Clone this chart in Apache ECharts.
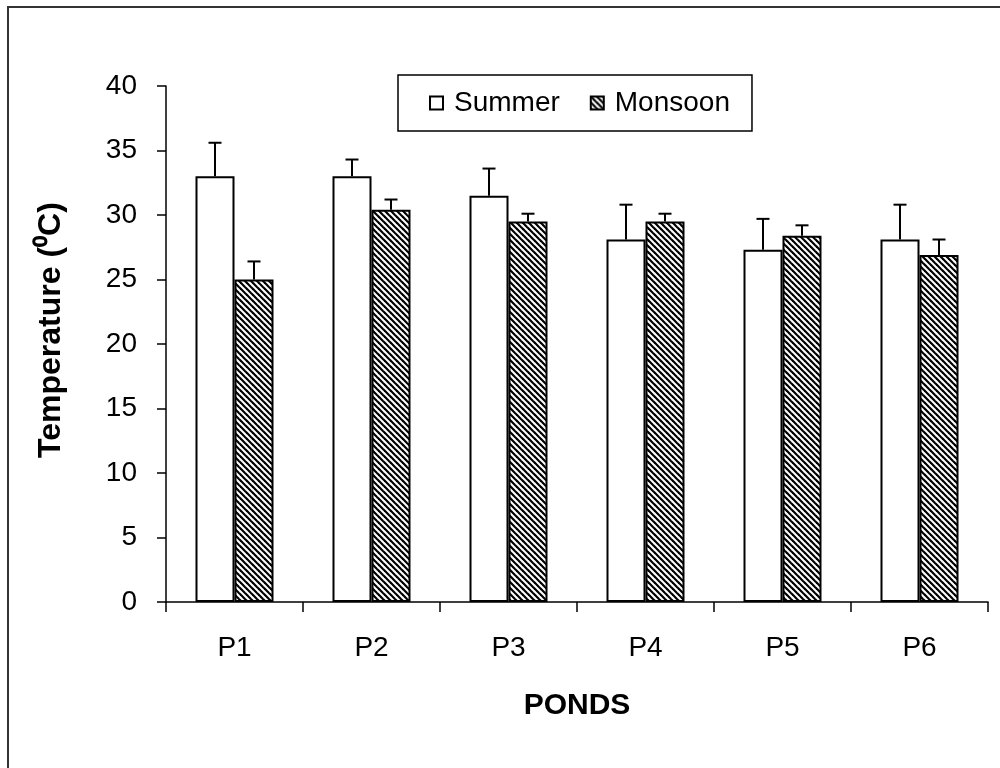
<!DOCTYPE html>
<html>
<head>
<meta charset="utf-8">
<script src="https://cdn.jsdelivr.net/npm/echarts@6/dist/echarts.min.js"></script>
<style>
  html, body { margin: 0; padding: 0; background: #fff; }
  #chart { width: 1000px; height: 768px; }
</style>
</head>
<body>
<div id="chart"></div>
<script>
const ponds = ['P1', 'P2', 'P3', 'P4', 'P5', 'P6'];
const summer = [33.0, 33.0, 31.5, 28.1, 27.3, 28.1];
const summerErr = [2.6, 1.3, 2.1, 2.7, 2.4, 2.7];
const monsoon = [25.0, 30.4, 29.5, 29.5, 28.4, 26.9];
const monsoonErr = [1.4, 0.8, 0.6, 0.6, 0.8, 1.2];
const yTicks = [0, 5, 10, 15, 20, 25, 30, 35, 40];

const FONT = '"Liberation Sans", Arial, sans-serif';
const BAR_W = 39;

// hatch pattern for monsoon bars
function makeHatch () {
  const c = document.createElement('canvas');
  c.width = 6;
  c.height = 6;
  const ctx = c.getContext('2d');
  ctx.fillStyle = '#fff';
  ctx.fillRect(0, 0, 6, 6);
  ctx.strokeStyle = '#000';
  ctx.lineWidth = 2.2;
  for (let k = -1; k <= 1; k++) {
    ctx.beginPath();
    ctx.moveTo(k * 6 - 1, -1);
    ctx.lineTo(k * 6 + 7, 7);
    ctx.stroke();
  }
  return c;
}
const hatch = { image: makeHatch(), repeat: 'repeat' };

function errorSeries (values, errs, offset) {
  return {
    type: 'custom',
    silent: true,
    z: 5,
    data: values.map((v, i) => [i, v, errs[i]]),
    encode: { x: 0, y: 1 },
    renderItem (params, api) {
      const i = api.value(0);
      const v = api.value(1);
      const e = api.value(2);
      const base = api.coord([i, v]);
      const top = api.coord([i, v + e]);
      const x = base[0] + offset;
      const style = { stroke: '#000', lineWidth: 2 };
      return {
        type: 'group',
        children: [
          { type: 'line', shape: { x1: x, y1: base[1], x2: x, y2: top[1] }, style },
          { type: 'line', shape: { x1: x - 6.5, y1: top[1], x2: x + 6.5, y2: top[1] }, style }
        ]
      };
    }
  };
}

const chart = echarts.init(document.getElementById('chart'));
chart.setOption({
  animation: false,
  backgroundColor: '#fff',
  textStyle: { fontFamily: FONT, color: '#000' },
  graphic: [{
    type: 'rect',
    shape: { x: 8, y: 7, width: 1200, height: 1200 },
    style: { fill: 'none', stroke: '#333', lineWidth: 2 },
    silent: true
  }],
  grid: { left: 166, right: 12, top: 86, bottom: 166 },
  legend: {
    left: 398,
    top: 75,
    orient: 'horizontal',
    data: ['Summer', 'Monsoon'],
    borderColor: '#000',
    borderWidth: 1.5,
    padding: [14, 22, 14, 31],
    itemWidth: 13,
    itemHeight: 13,
    itemGap: 30,
    icon: 'rect',
    textStyle: { fontFamily: FONT, fontSize: 28, color: '#000', padding: [0, 0, 0, 6] }
  },
  xAxis: {
    type: 'category',
    data: ponds,
    name: 'PONDS',
    nameLocation: 'middle',
    nameGap: 89,
    nameTextStyle: { fontFamily: FONT, fontSize: 30, fontWeight: 'bold', color: '#000' },
    axisLine: { lineStyle: { color: '#000', width: 1.5 } },
    axisTick: { show: true, length: 10, lineStyle: { color: '#000', width: 1.5 } },
    axisLabel: { fontFamily: FONT, fontSize: 28, color: '#000', margin: 32 },
    splitLine: { show: false }
  },
  yAxis: {
    type: 'value',
    min: yTicks[0],
    max: yTicks[yTicks.length - 1],
    interval: 5,
    name: 'Temperature (\u2070C)',
    nameLocation: 'middle',
    nameGap: 99,
    nameTextStyle: { fontFamily: FONT, fontSize: 32, fontWeight: 'bold', color: '#000', padding: [0, 0, 0, 28] },
    axisLine: { show: true, lineStyle: { color: '#000', width: 1.5 } },
    axisTick: { show: true, inside: false, length: 9, lineStyle: { color: '#000', width: 1.5 } },
    axisLabel: { fontFamily: FONT, fontSize: 28, color: '#000', margin: 29 },
    splitLine: { show: false }
  },
  series: [
    {
      name: 'Summer',
      type: 'bar',
      barWidth: BAR_W,
      barGap: '0%',
      data: summer,
      itemStyle: { color: '#fff', borderColor: '#000', borderWidth: 2 }
    },
    {
      name: 'Monsoon',
      type: 'bar',
      barWidth: BAR_W,
      barGap: '0%',
      data: monsoon,
      itemStyle: { color: hatch, borderColor: '#000', borderWidth: 2 }
    },
    errorSeries(summer, summerErr, -BAR_W / 2),
    errorSeries(monsoon, monsoonErr, BAR_W / 2)
  ]
});
</script>
</body>
</html>
